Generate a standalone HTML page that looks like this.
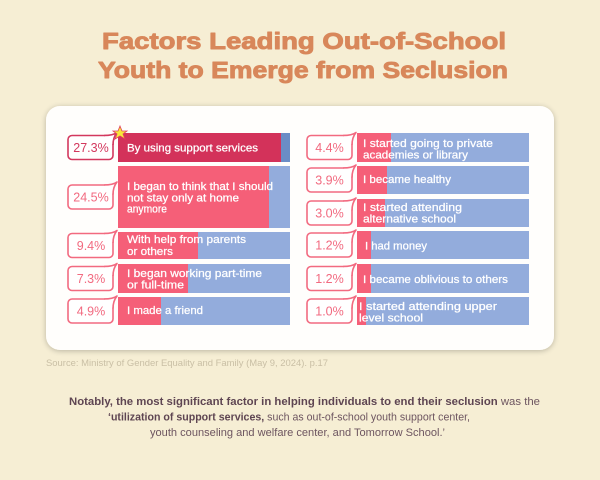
<!DOCTYPE html>
<html><head><meta charset="utf-8"><style>
html,body{margin:0;padding:0;background:#f6eed4;}
svg{display:block;}
</style></head><body>
<svg width="600" height="480" viewBox="0 0 600 480" xmlns="http://www.w3.org/2000/svg">
<defs>
<filter id="sh" x="-10%" y="-10%" width="120%" height="120%">
<feGaussianBlur in="SourceAlpha" stdDeviation="3"/>
<feOffset dx="0" dy="1"/>
<feComponentTransfer><feFuncA type="linear" slope="0.25"/></feComponentTransfer>
<feMerge><feMergeNode/><feMergeNode in="SourceGraphic"/></feMerge>
</filter>
</defs>
<rect x="0" y="0" width="600" height="480" fill="#f6eed4"/>
<!-- Title -->
<g font-family="Liberation Sans, sans-serif" font-weight="bold" font-size="23" fill="#d8875a" stroke="#d8875a" stroke-width="0.9" stroke-linejoin="round">
<text x="102" y="49" textLength="404" lengthAdjust="spacingAndGlyphs">Factors Leading Out-of-School</text>
<text x="98" y="78" textLength="410" lengthAdjust="spacingAndGlyphs">Youth to Emerge from Seclusion</text>
</g>
<!-- Card -->
<rect x="46" y="106" width="508" height="244" rx="14" fill="#fffefc" filter="url(#sh)"/>

<!-- Left bars -->
<rect x="118" y="133" width="172" height="29" fill="#6b8dc6"/>
<rect x="118" y="133" width="163" height="29" fill="#d3325a"/>
<rect x="118" y="166" width="172" height="62" fill="#93acdc"/>
<rect x="118" y="166" width="151" height="62" fill="#f55f78"/>
<rect x="118" y="232" width="172" height="27" fill="#93acdc"/>
<rect x="118" y="232" width="80" height="27" fill="#f55f78"/>
<rect x="118" y="264" width="172" height="29" fill="#93acdc"/>
<rect x="118" y="264" width="70" height="29" fill="#f55f78"/>
<rect x="118" y="297" width="172" height="28" fill="#93acdc"/>
<rect x="118" y="297" width="43" height="28" fill="#f55f78"/>

<!-- Right bars -->
<rect x="357" y="133" width="172" height="29" fill="#93acdc"/>
<rect x="357" y="133" width="34" height="29" fill="#f55f78"/>
<rect x="357" y="166" width="172" height="28" fill="#93acdc"/>
<rect x="357" y="166" width="30" height="28" fill="#f55f78"/>
<rect x="357" y="199" width="172" height="28" fill="#93acdc"/>
<rect x="357" y="199" width="28" height="28" fill="#f55f78"/>
<rect x="357" y="231" width="172" height="28" fill="#93acdc"/>
<rect x="357" y="231" width="14" height="28" fill="#f55f78"/>
<rect x="357" y="264" width="172" height="29" fill="#93acdc"/>
<rect x="357" y="264" width="14" height="29" fill="#f55f78"/>
<rect x="357" y="297" width="172" height="28" fill="#93acdc"/>
<rect x="357" y="297" width="9" height="28" fill="#f55f78"/>

<!-- Bar texts -->
<g font-family="Liberation Sans, sans-serif" font-size="11" fill="#ffffff" stroke="#ffffff" stroke-width="0.25">
<text x="127" y="151.5" textLength="131" lengthAdjust="spacingAndGlyphs">By using support services</text>
<text x="127" y="190" textLength="146" lengthAdjust="spacingAndGlyphs">I began to think that I should</text>
<text x="127" y="201.5" textLength="112" lengthAdjust="spacingAndGlyphs">not stay only at home</text>
<text x="127" y="212.5" textLength="40" lengthAdjust="spacingAndGlyphs">anymore</text>
<text x="127" y="243" textLength="119" lengthAdjust="spacingAndGlyphs">With help from parents</text>
<text x="127" y="255" textLength="46" lengthAdjust="spacingAndGlyphs">or others</text>
<text x="127" y="277" textLength="135" lengthAdjust="spacingAndGlyphs">I began working part-time</text>
<text x="127" y="288.5" textLength="57" lengthAdjust="spacingAndGlyphs">or full-time</text>
<text x="127" y="314" textLength="76" lengthAdjust="spacingAndGlyphs">I made a friend</text>

<text x="363" y="147" textLength="130" lengthAdjust="spacingAndGlyphs">I started going to private</text>
<text x="363" y="158.5" textLength="105" lengthAdjust="spacingAndGlyphs">academies or library</text>
<text x="363" y="183" textLength="88" lengthAdjust="spacingAndGlyphs">I became healthy</text>
<text x="363" y="211" textLength="99" lengthAdjust="spacingAndGlyphs">I started attending</text>
<text x="363" y="222.5" textLength="93" lengthAdjust="spacingAndGlyphs">alternative school</text>
<text x="365" y="249.5" textLength="62" lengthAdjust="spacingAndGlyphs">I had money</text>
<text x="363" y="283" textLength="145" lengthAdjust="spacingAndGlyphs">I became oblivious to others</text>
<text x="359" y="310" textLength="138" lengthAdjust="spacingAndGlyphs">I started attending upper</text>
<text x="359" y="321.5" textLength="64" lengthAdjust="spacingAndGlyphs">level school</text>
</g>

<!-- Label boxes -->
<g fill="#ffffff" stroke-width="1.6" stroke-linejoin="round">
<rect x="68" y="135.5" width="45" height="24" rx="4" stroke="#d3385e"/>
<path d="M104,135.5 Q113,135.5 117,132.5 Q113,137.5 113,145 Z" stroke="none"/>
<path d="M104,135.5 Q113,135.5 117,132.5 Q113,137.5 113,145" fill="none" stroke="#d3385e"/>
<rect x="68" y="185" width="45" height="24" rx="4" stroke="#f26a80"/>
<path d="M104,185 Q113,185 117,182 Q113,187 113,194.5 Z" stroke="none"/>
<path d="M104,185 Q113,185 117,182 Q113,187 113,194.5" fill="none" stroke="#f26a80"/>
<rect x="68" y="233.5" width="45" height="24" rx="4" stroke="#f26a80"/>
<path d="M104,233.5 Q113,233.5 117,230.5 Q113,235.5 113,243 Z" stroke="none"/>
<path d="M104,233.5 Q113,233.5 117,230.5 Q113,235.5 113,243" fill="none" stroke="#f26a80"/>
<rect x="68" y="266.5" width="45" height="24" rx="4" stroke="#f26a80"/>
<path d="M104,266.5 Q113,266.5 117,263.5 Q113,268.5 113,276 Z" stroke="none"/>
<path d="M104,266.5 Q113,266.5 117,263.5 Q113,268.5 113,276" fill="none" stroke="#f26a80"/>
<rect x="68" y="299" width="45" height="24" rx="4" stroke="#f26a80"/>
<path d="M104,299 Q113,299 117,296 Q113,301 113,308.5 Z" stroke="none"/>
<path d="M104,299 Q113,299 117,296 Q113,301 113,308.5" fill="none" stroke="#f26a80"/>

<rect x="307" y="135.5" width="45" height="24" rx="4" stroke="#f26a80"/>
<path d="M343,135.5 Q352,135.5 356,132.5 Q352,137.5 352,145 Z" stroke="none"/>
<path d="M343,135.5 Q352,135.5 356,132.5 Q352,137.5 352,145" fill="none" stroke="#f26a80"/>
<rect x="307" y="168" width="45" height="24" rx="4" stroke="#f26a80"/>
<path d="M343,168 Q352,168 356,165 Q352,170 352,177.5 Z" stroke="none"/>
<path d="M343,168 Q352,168 356,165 Q352,170 352,177.5" fill="none" stroke="#f26a80"/>
<rect x="307" y="201" width="45" height="24" rx="4" stroke="#f26a80"/>
<path d="M343,201 Q352,201 356,198 Q352,203 352,210.5 Z" stroke="none"/>
<path d="M343,201 Q352,201 356,198 Q352,203 352,210.5" fill="none" stroke="#f26a80"/>
<rect x="307" y="233" width="45" height="24" rx="4" stroke="#f26a80"/>
<path d="M343,233 Q352,233 356,230 Q352,235 352,242.5 Z" stroke="none"/>
<path d="M343,233 Q352,233 356,230 Q352,235 352,242.5" fill="none" stroke="#f26a80"/>
<rect x="307" y="266.5" width="45" height="24" rx="4" stroke="#f26a80"/>
<path d="M343,266.5 Q352,266.5 356,263.5 Q352,268.5 352,276 Z" stroke="none"/>
<path d="M343,266.5 Q352,266.5 356,263.5 Q352,268.5 352,276" fill="none" stroke="#f26a80"/>
<rect x="307" y="299" width="45" height="24" rx="4" stroke="#f26a80"/>
<path d="M343,299 Q352,299 356,296 Q352,301 352,308.5 Z" stroke="none"/>
<path d="M343,299 Q352,299 356,296 Q352,301 352,308.5" fill="none" stroke="#f26a80"/>
</g>

<!-- Percent texts -->
<g font-family="Liberation Sans, sans-serif" font-size="12.5" text-anchor="middle">
<text x="91" y="152" fill="#d3385e">27.3%</text>
<text x="91" y="201.5" fill="#f26a80">24.5%</text>
<text x="91" y="250" fill="#f26a80">9.4%</text>
<text x="91" y="283" fill="#f26a80">7.3%</text>
<text x="91" y="315.5" fill="#f26a80">4.9%</text>
<text x="329.5" y="152" fill="#f26a80">4.4%</text>
<text x="329.5" y="184.5" fill="#f26a80">3.9%</text>
<text x="329.5" y="217.5" fill="#f26a80">3.0%</text>
<text x="329.5" y="249.5" fill="#f26a80">1.2%</text>
<text x="329.5" y="283" fill="#f26a80">1.2%</text>
<text x="329.5" y="315.5" fill="#f26a80">1.0%</text>
</g>

<!-- Star -->
<polygon points="120,126 122,131 127,131 123,134 125,139 120,136 115,139 117,134 113,131 118,131" fill="#f7e83a" stroke="#e0405e" stroke-width="0.8"/>

<!-- Source -->
<text x="46" y="366" font-family="Liberation Sans, sans-serif" font-size="9.5" fill="#c9bfa5" textLength="282" lengthAdjust="spacingAndGlyphs">Source: Ministry of Gender Equality and Family (May 9, 2024). p.17</text>

<!-- Paragraph -->
<g font-family="Liberation Sans, sans-serif" font-size="11" fill="#6d5560">
<text x="69" y="405" textLength="471" lengthAdjust="spacingAndGlyphs"><tspan font-weight="bold" fill="#5e4552">Notably, the most significant factor in helping individuals to end their seclusion</tspan> was the</text>
<text x="108" y="420.5" textLength="362" lengthAdjust="spacingAndGlyphs"><tspan font-weight="bold" fill="#5e4552">‘utilization of support services,</tspan> such as out-of-school youth support center,</text>
<text x="150" y="436" textLength="295" lengthAdjust="spacingAndGlyphs">youth counseling and welfare center, and Tomorrow School.’</text>
</g>
</svg>
</body></html>
